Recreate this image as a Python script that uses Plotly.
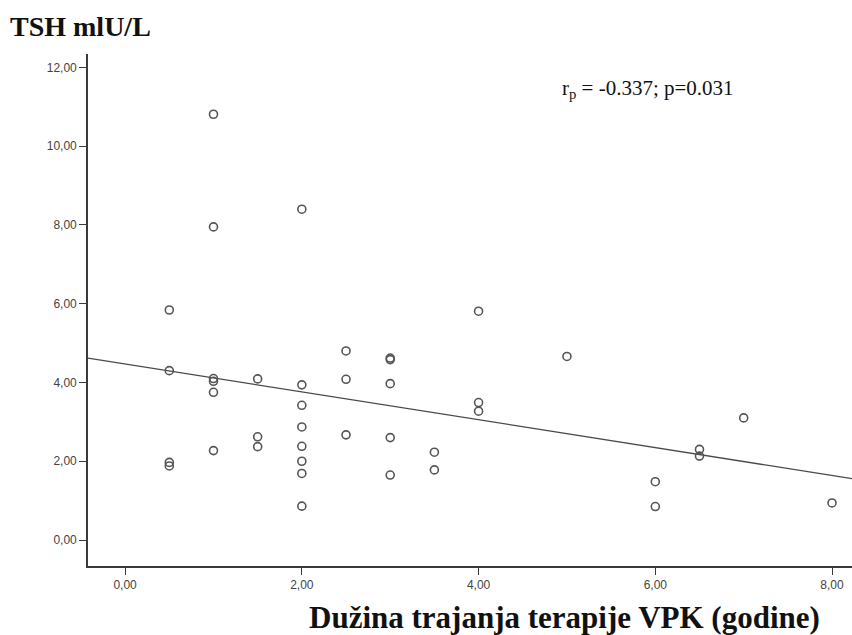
import numpy as np
import plotly.graph_objects as go

# Duration of therapy (years) and TSH values
duration = [0.5, 0.5, 0.5, 0.5,
            1, 1, 1, 1, 1, 1,
            1.5, 1.5, 1.5,
            2, 2, 2, 2, 2, 2, 2, 2,
            2.5, 2.5, 2.5,
            3, 3, 3, 3, 3,
            3.5, 3.5,
            4, 4, 4,
            5,
            6, 6,
            6.5, 6.5,
            7,
            8]
tsh = [5.84, 4.30, 1.97, 1.88,
       10.81, 7.95, 4.10, 4.03, 3.75, 2.27,
       4.09, 2.62, 2.37,
       8.40, 3.94, 3.42, 2.87, 2.38, 2.00, 1.69, 0.86,
       4.80, 4.08, 2.67,
       4.62, 4.58, 3.97, 2.60, 1.65,
       2.23, 1.78,
       5.81, 3.49, 3.27,
       4.66,
       1.48, 0.85,
       2.30, 2.13,
       3.10,
       0.94]

x_ticks = [0, 2, 4, 6, 8]
x_tick_labels = ["0,00", "2,00", "4,00", "6,00", "8,00"]
y_ticks = [0, 2, 4, 6, 8, 10, 12]
y_tick_labels = ["0,00", "2,00", "4,00", "6,00", "8,00", "10,00", "12,00"]

x_range = [-0.42, 8.226]
y_range = [-0.66, 12.34]

slope, intercept = np.polyfit(duration, tsh, 1)
line_x = np.array(x_range)
line_y = intercept + slope * line_x

L, T, B = 88, 54, 69
PW, PH = 852 - L, 635 - T - B

fig = go.Figure()
fig.add_trace(go.Scatter(
    x=line_x, y=line_y, mode="lines",
    line=dict(color="#4a4a4a", width=1.3),
    hoverinfo="skip", showlegend=False,
))
fig.add_trace(go.Scatter(
    x=duration, y=tsh, mode="markers",
    marker=dict(symbol="circle-open", size=8, color="#555555",
                line=dict(width=1.6, color="#555555")),
    showlegend=False,
))

axis_common = dict(
    showgrid=False, zeroline=False, showline=True,
    linecolor="#3a3a3a", linewidth=1.6, ticks="outside",
    ticklen=7, tickwidth=1.4, tickcolor="#3a3a3a",
    tickfont=dict(family="Liberation Sans, Arial", size=12, color="#444444"),
)

fig.update_layout(
    width=852, height=635,
    margin=dict(l=L, r=0, t=T, b=B),
    paper_bgcolor="white", plot_bgcolor="white",
    xaxis=dict(range=x_range, tickvals=x_ticks, ticktext=x_tick_labels, **axis_common),
    yaxis=dict(range=y_range, tickvals=y_ticks, ticktext=y_tick_labels, **axis_common),
    annotations=[
        dict(text="<b>TSH mlU/L</b>", xref="paper", yref="paper",
             x=(8 - L) / PW, y=1 + (T - 26) / PH, xanchor="left", yanchor="middle",
             showarrow=False,
             font=dict(family="Liberation Serif, Times New Roman", size=28, color="#111111")),
        dict(text="<b>Dužina trajanja terapije VPK (godine)</b>", xref="paper", yref="paper",
             x=(564 - L) / PW, y=-(617 - (635 - B)) / PH, xanchor="center", yanchor="middle",
             showarrow=False,
             font=dict(family="Liberation Serif, Times New Roman", size=31, color="#111111")),
        dict(text="r<sub>p</sub> = -0.337; p=0.031", xref="paper", yref="paper",
             x=(560 - L) / PW, y=((635 - B) - 89) / PH, xanchor="left", yanchor="middle",
             showarrow=False,
             font=dict(family="Liberation Serif, Times New Roman", size=21, color="#111111")),
    ],
)

fig.write_html("out.html")
